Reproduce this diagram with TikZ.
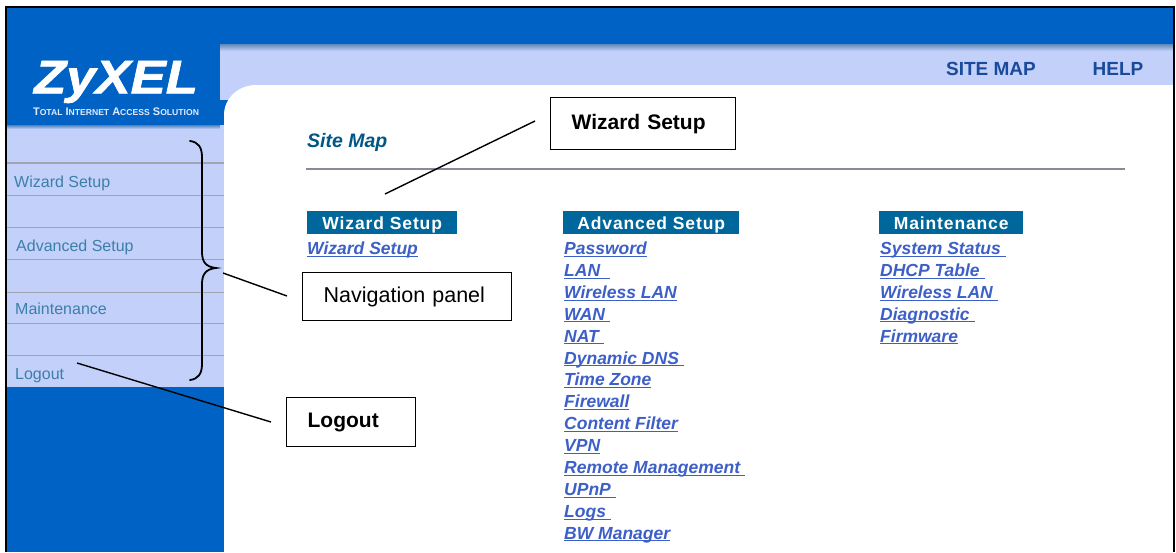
\documentclass[tikz,border=0pt]{standalone}
\usepackage{fontspec}
\usepackage{graphicx}
\setmainfont{Liberation Sans}
\newfontfamily\logofont[FakeStretch=1.12,FakeBold=1.5]{Liberation Sans}
\newfontfamily\headfont[LetterSpace=5]{Liberation Sans}
\definecolor{zblue}{HTML}{0062C4}
\definecolor{zlight}{HTML}{C3D0FA}
\definecolor{zteal}{HTML}{00679C}
\definecolor{zlink}{HTML}{3D5FC8}
\definecolor{zside}{HTML}{3C7FA8}
\definecolor{zrule}{HTML}{A0A4B0}
\definecolor{znavy}{HTML}{1A4A9A}
\newcommand\lnk[1]{\underline{\smash{#1}}}
\tikzset{
  x=1pt,y=-1pt,
  sidelabel/.style={anchor=base west,inner sep=0pt,text=zside,font=\fontsize{16}{18}\selectfont},
  sideline/.style={draw=zrule,line width=1pt},
  linkitem/.style={anchor=base west,inner sep=0pt,text=zlink,font=\fontsize{17.5}{19}\selectfont\bfseries\itshape},
  header/.style={anchor=west,inner sep=0pt,fill=zteal,text=white,minimum height=23pt,text height=14pt,text depth=1pt,font=\headfont\fontsize{17.5}{19}\selectfont\bfseries},
  callout/.style={draw=black,line width=1.3pt,fill=white,inner sep=0pt,anchor=north west,text=black,align=left},
  calloutplain/.style={callout,font=\fontsize{21.5}{23}\selectfont},
  calloutbold/.style={callout,font=\fontsize{21}{23}\selectfont\bfseries},
  leader/.style={draw=black,line width=1.4pt},
  toplink/.style={anchor=center,inner sep=0pt,text=znavy,font=\fontsize{19}{21}\selectfont\bfseries},
}
\begin{document}
\begin{tikzpicture}
\useasboundingbox (0,0) rectangle (1176,552);
\fill[white] (0,0) rectangle (1176,552);
% panels
\fill[zblue] (6,7) rectangle (1174,552);
\fill[zlight] (220,44) rectangle (1174,100);
\shade[top color=zblue!40!zrule,bottom color=zlight] (220,44) rectangle (1174,51);
\fill[white] (224,552) -- (224,115) to[out=90,in=180] (256,85) -- (1174,85) -- (1174,552) -- cycle;
\fill[zlight] (6,125) rectangle (224,387);
\shade[top color=zblue!50!zrule,bottom color=zlight] (6,125) rectangle (220,129);
\draw[sideline,line width=1.6pt] (6,163) -- (224,163);
\foreach \yy in {195,227,259,292,323,355} \draw[sideline] (6,\yy) -- (224,\yy);
% frame
\draw[black,line width=1.5pt] (6,552) -- (6,7) -- (1174,7) -- (1174,552);
% logo
\node[inner sep=0pt,text=white,font=\logofont\fontsize{47}{47}\selectfont\bfseries\itshape] (logo) at (116,82) {ZyXEL};
\node[inner sep=0pt,text=zlight!45!white,font=\fontsize{11}{12}\selectfont\bfseries] (tag) at (116,112) {T\fontsize{8.6}{12}\selectfont OTAL\fontsize{11}{12}\selectfont\ I\fontsize{8.6}{12}\selectfont NTERNET\fontsize{11}{12}\selectfont\ A\fontsize{8.6}{12}\selectfont CCESS\fontsize{11}{12}\selectfont\ S\fontsize{8.6}{12}\selectfont OLUTION};
% top links
\node[toplink] (sitemap) at (991,69) {SITE MAP};
\node[toplink] (help) at (1118,69) {HELP};
% sidebar
\node[sidelabel] (s1) at (14,187) {Wizard Setup};
\node[sidelabel] (s2) at (16,251) {Advanced Setup};
\node[sidelabel] (s3) at (15,314) {Maintenance};
\node[sidelabel] (s4) at (15,379) {Logout};
% site map title
\node[anchor=base west,inner sep=0pt,text=zteal!85!black,font=\fontsize{19.5}{21}\selectfont\bfseries\itshape] (title) at (307,147) {Site Map};
\draw[draw=zrule!85!black,line width=1.3pt] (306,169) -- (1125,169);
% headers
\node[header,minimum width=150pt,text width=150pt,align=center] (h1) at (307,222.5) {Wizard Setup};
\node[header,minimum width=176pt,text width=176pt,align=center] (h2) at (563,222.5) {Advanced Setup};
\node[header,minimum width=144pt,text width=144pt,align=center] (h3) at (879,222.5) {Maintenance};
% links
\node[linkitem] (w1) at (307,254.5) {\lnk{Wizard Setup}};
\foreach \name/\txt/\yy in {a1/Password/254.5,a2/{LAN\ \ }/276.4,a3/{Wireless LAN}/298.3,a4/{WAN\ }/320.2,a5/{NAT\ }/342.1,a6/{Dynamic DNS\ }/364,a7/{Time Zone}/385.9,a8/Firewall/407.8,a9/{Content Filter}/429.7,a10/VPN/451.6,a11/{Remote Management\ }/473.5,a12/{UPnP\ }/495.4,a13/{Logs\ }/517.3,a14/{BW Manager}/539.2}
  \node[linkitem] (\name) at (564,\yy) {\lnk{\txt}};
\foreach \name/\txt/\yy in {m1/{System Status\ }/254.5,m2/{DHCP Table\ }/276.4,m3/{Wireless LAN\ }/298.3,m4/{Diagnostic\ }/320.2,m5/Firmware/342.1}
  \node[linkitem] (\name) at (880,\yy) {\lnk{\txt}};
% brace
\coordinate (bracetip) at (216,268);
\draw[black,line width=1.8pt,line cap=round] (190,141) .. controls (198,142) and (202,147) .. (202,157) -- (202,252) .. controls (202,262) and (206,267) .. (bracetip) .. controls (206,269) and (202,274) .. (202,284) -- (202,364) .. controls (202,374) and (198,379) .. (190,380);
% callouts
\node[calloutbold,minimum width=185pt,minimum height=52pt,text width=143pt] (cw) at (550,97) {Wizard Setup};
\node[calloutplain,minimum width=209pt,minimum height=48pt,text width=167pt] (cn) at (302,272) {Navigation panel};
\node[calloutbold,minimum width=129pt,minimum height=49pt,text width=87pt] (cl) at (286,397) {Logout};
\coordinate (wend) at (385,194);
\coordinate (wstart) at (535,121);
\coordinate (nstart) at (287,296);
\coordinate (nend) at (223,273);
\coordinate (lstart) at (271,422);
\coordinate (lend) at (77,363);
\draw[leader] (wstart) -- (wend);
\draw[leader] (nstart) -- (nend);
\draw[leader] (lstart) -- (lend);
\end{tikzpicture}
\end{document}
